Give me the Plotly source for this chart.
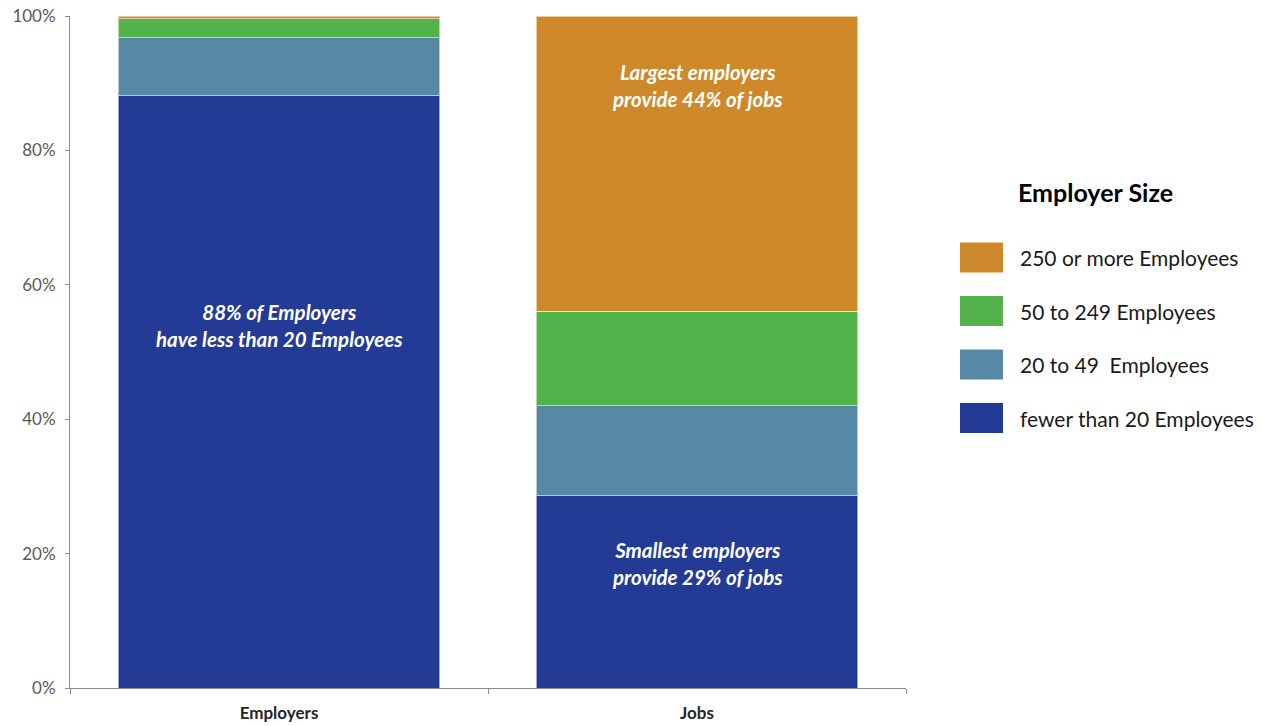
import plotly.graph_objects as go

# Share of employers and of jobs by employer size (percent)
categories = ["Employers", "Jobs"]
size_groups = ["fewer than 20 Employees", "20 to 49  Employees",
               "50 to 249 Employees", "250 or more Employees"]
share_small = [88.1, 28.6]
share_20_49 = [8.7, 13.4]
share_50_249 = [2.8, 14.1]
share_250_plus = [0.4, 43.9]
colors = ["#243B96", "#5589A6", "#53B24A", "#CE8A2A"]
y_ticks = [0, 20, 40, 60, 80, 100]

series = [share_small, share_20_49, share_50_249, share_250_plus]

W, H = 1262, 726
L, R, T, B = 70, 356, 16, 38

fig = go.Figure()
for name, vals, col in zip(size_groups, series, colors):
    fig.add_trace(go.Bar(
        x=categories, y=vals, name=name,
        marker=dict(color=col, line=dict(color="rgba(255,255,255,0.55)", width=1)),
        showlegend=False, hoverinfo="skip",
    ))

font_main = "Lato, 'Open Sans', sans-serif"
fig.update_layout(
    width=W, height=H, barmode="stack", bargap=0.23,
    margin=dict(l=L, r=R, t=T, b=B, autoexpand=False),
    plot_bgcolor="white", paper_bgcolor="white",
    font=dict(family=font_main, color="#404040"),
    xaxis=dict(
        range=[-0.5, 1.5], showline=True, linecolor="#8c8c8c", linewidth=1,
        ticks="outside", tickson="boundaries", ticklen=5, tickcolor="#8c8c8c",
        tickfont=dict(size=17, color="#262626", family=font_main, weight="bold"),
        ticklabelstandoff=10, showgrid=False, automargin=False,
    ),
    yaxis=dict(
        range=[0, 100], tickvals=y_ticks, ticktext=[f"{v}%" for v in y_ticks],
        showline=True, linecolor="#8c8c8c", linewidth=1,
        ticks="outside", ticklen=4, tickcolor="#8c8c8c",
        tickfont=dict(size=17, color="#595959"), ticklabelstandoff=6,
        showgrid=False, zeroline=False, automargin=False,
    ),
)

# Callouts inside the bars
note_font = dict(family=font_main, size=20.5, color="white", style="italic", weight="bold")
emp_pct = round(share_small[0])
jobs_small_pct = round(share_small[1])
jobs_large_pct = round(share_250_plus[1])
fig.add_annotation(x="Employers", y=53.9, showarrow=False, font=note_font,
                   text=f"{emp_pct}% of Employers<br>have less than 20 Employees")
fig.add_annotation(x="Jobs", y=89.6, showarrow=False, font=note_font,
                   text=f"Largest employers<br>provide {jobs_large_pct}% of jobs")
fig.add_annotation(x="Jobs", y=18.5, showarrow=False, font=note_font,
                   text=f"Smallest employers<br>provide {jobs_small_pct}% of jobs")

# Legend drawn as swatches + labels in paper coordinates
def px_x(px):
    return (px - L) / (W - L - R)

def px_y(py):
    return (H - B - py) / (H - T - B)

fig.add_annotation(x=px_x(1016), y=px_y(192), xref="paper", yref="paper",
                   xanchor="left", yanchor="middle", showarrow=False,
                   text="Employer Size",
                   font=dict(family=font_main, size=25, color="#000000", weight="bold"))

legend_order = [3, 2, 1, 0]
for i, k in enumerate(legend_order):
    cy = 257.5 + i * 53.5
    fig.add_shape(type="rect", xref="paper", yref="paper",
                  x0=px_x(960), x1=px_x(1003), y0=px_y(cy - 15), y1=px_y(cy + 15),
                  fillcolor=colors[k], line=dict(width=0))
    fig.add_annotation(x=px_x(1018), y=px_y(cy), xref="paper", yref="paper",
                       xanchor="left", yanchor="middle", showarrow=False,
                       text=size_groups[k],
                       font=dict(family=font_main, size=21, color="#1a1a1a"))

fig.write_html("out.html")
